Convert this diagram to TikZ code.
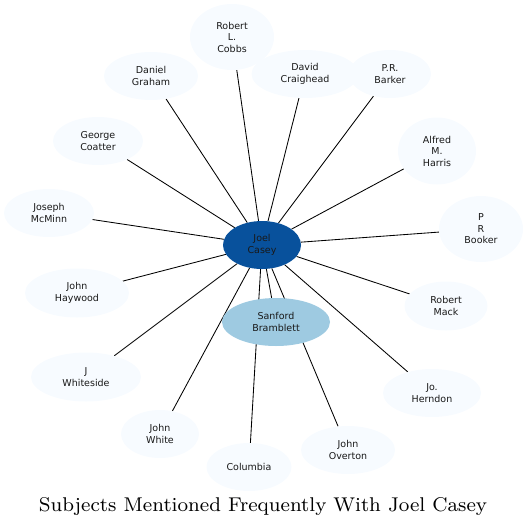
\documentclass[tikz,border=0pt]{standalone}
\usepackage{fontspec}
\newfontfamily\dvsans{DejaVu Sans}
\newfontfamily\titlefont{lmroman8-regular}[Extension=.otf]
\usetikzlibrary{shapes.geometric,backgrounds}
\definecolor{leaf}{HTML}{F7FBFF}
\definecolor{hub}{HTML}{08519C}
\definecolor{mid}{HTML}{9ECAE1}
\tikzset{
  ent/.style={ellipse, draw=none, fill=leaf, inner sep=0pt, align=center,
    font=\dvsans\fontsize{9.5}{11.5}\selectfont, text=black!90},
  link/.style={draw=black, line width=0.85pt}
}
\begin{document}
\begin{tikzpicture}[x=1pt,y=-1pt]
\useasboundingbox (0,0) rectangle (529,528);
\node[ent, fill=hub, minimum width=78pt, minimum height=48pt] (joel) at (262,245) {Joel\\Casey};
\node[ent, fill=mid, minimum width=108pt, minimum height=48pt] (sanford) at (276,322) {Sanford\\Bramblett};
\node[ent, minimum width=84pt, minimum height=66pt] (cobbs) at (232,37) {Robert\\L.\\Cobbs};
\node[ent, minimum width=94pt, minimum height=48pt] (graham) at (151,76) {Daniel\\Graham};
\node[ent, minimum width=107pt, minimum height=48pt] (craig) at (305,74) {David\\Craighead};
\node[ent, minimum width=82pt, minimum height=48pt] (barker) at (390,74) {P.R.\\Barker};
\node[ent, minimum width=90pt, minimum height=48pt] (coatter) at (98,141) {George\\Coatter};
\node[ent, minimum width=78pt, minimum height=67pt] (harris) at (437,151) {Alfred\\M.\\Harris};
\node[ent, minimum width=90pt, minimum height=48pt] (mcminn) at (49,213) {Joseph\\McMinn};
\node[ent, minimum width=84pt, minimum height=66pt] (booker) at (481,229) {P\\R\\Booker};
\node[ent, minimum width=104pt, minimum height=49pt] (haywood) at (77,293) {John\\Haywood};
\node[ent, minimum width=83pt, minimum height=49pt] (mack) at (446,306) {Robert\\Mack};
\node[ent, minimum width=110pt, minimum height=49pt] (whiteside) at (86,377) {J\\Whiteside};
\node[ent, minimum width=98pt, minimum height=48pt] (herndon) at (432,393) {Jo.\\Herndon};
\node[ent, minimum width=78pt, minimum height=48pt] (white) at (160,434) {John\\White};
\node[ent, minimum width=94pt, minimum height=48pt] (overton) at (348,450) {John\\Overton};
\node[ent, minimum width=85pt, minimum height=48pt] (columbia) at (249,467) {Columbia};
\begin{pgfonlayer}{background}
\foreach \t in {sanford,cobbs,graham,craig,barker,coatter,harris,mcminn,booker,haywood,mack,whiteside,herndon,white,overton,columbia}
  \draw[link] (joel) -- (\t);
\end{pgfonlayer}
\node[font=\titlefont\fontsize{19.9}{24}\selectfont, inner sep=0pt, anchor=base] (title) at (263,511) {Subjects Mentioned Frequently With Joel Casey};
\end{tikzpicture}
\end{document}
